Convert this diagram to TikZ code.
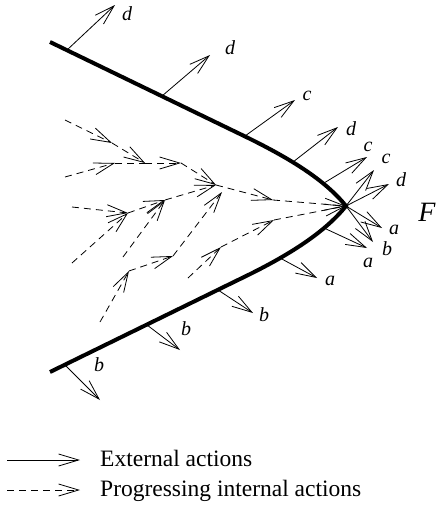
\documentclass[tikz,border=0pt]{standalone}
\usepackage{fontspec}
\setmainfont{Liberation Serif}
\usetikzlibrary{arrows.meta}

\begin{document}
\begin{tikzpicture}[x=1pt,y=-1pt,
		ext/.style={line width=0.8pt,-{Straight Barb[length=20pt,width=12pt]}},
		inner/.style={ext,dash pattern=on 7pt off 5pt},
		plain/.style={line width=0.8pt,dash pattern=on 7pt off 5pt},
		lab/.style={font=\fontsize{20}{24}\selectfont\itshape,inner sep=0pt},
		legend/.style={font=\fontsize{23.5}{28}\selectfont,inner sep=0pt,anchor=base west}]
		\useasboundingbox (0,0) rectangle (438,514);
		
		\coordinate (F) at (346,206);
		\draw[line width=4pt,line join=miter] (50,42) -- (240,134) .. controls (290,158) and (325,180) .. (F)
			.. controls (325,232) and (290,255) .. (240,279) -- (50,372);
		\node[font=\fontsize{28}{32}\selectfont\itshape,inner sep=0pt] (fl) at (427,212) {F};
		
		\coordinate (s1) at (65,120);
		\coordinate (s2) at (65,177);
		\coordinate (s3) at (72,207);
		\coordinate (s4) at (72,263);
		\coordinate (s5) at (123,257);
		\coordinate (s6) at (100,322);
		\coordinate (s7) at (188,278);
		\coordinate (n1) at (112,143);
		\coordinate (n2) at (145,163);
		\coordinate (n3) at (115,163);
		\coordinate (n4) at (181,163);
		\coordinate (n5) at (216,185);
		\coordinate (n6) at (128,213);
		\coordinate (n7) at (165,200);
		\coordinate (n8) at (273,200);
		\coordinate (n9) at (129,271);
		\coordinate (n10) at (173,256);
		\coordinate (n11) at (222,192);
		\coordinate (n12) at (221,247);
		\coordinate (n13) at (274,220);
		
		\draw[inner] (s1) -- (n1);
		\draw[inner] (n1) -- (n2);
		\draw[inner] (s2) -- (n3);
		\draw[plain] (n3) -- (n2);
		\draw[inner] (n2) -- (n4);
		\draw[inner] (n4) -- (n5);
		\draw[inner] (s3) -- (n6);
		\draw[inner] (s4) -- (n6);
		\draw[inner] (n6) -- (n7);
		\draw[inner] (s5) -- (n7);
		\draw[inner] (n7) -- (n5);
		\draw[inner] (n5) -- (n8);
		\draw[inner] (n8) -- (F);
		\draw[inner] (s6) -- (n9);
		\draw[inner] (n9) -- (n10);
		\draw[inner] (n10) -- (n11);
		\draw[inner] (s7) -- (n12);
		\draw[inner] (n12) -- (n13);
		\draw[inner] (n13) -- (F);
		
		\coordinate (b1) at (67,50);
		\coordinate (t1) at (115,5);
		\coordinate (b2) at (162,96);
		\coordinate (t2) at (210,55);
		\coordinate (b3) at (245,136);
		\coordinate (t3) at (295,100);
		\coordinate (b4) at (293,162);
		\coordinate (t4) at (338,127);
		\coordinate (b5) at (324,183);
		\coordinate (t5) at (367,157);
		\coordinate (t6) at (374,170);
		\coordinate (t7) at (389,184);
		\coordinate (t8) at (382,228);
		\coordinate (t9) at (373,242);
		\coordinate (b10) at (324,228);
		\coordinate (t10) at (367,248);
		\coordinate (b11) at (280,258);
		\coordinate (t11) at (317,278);
		\coordinate (b12) at (218,290);
		\coordinate (t12) at (253,313);
		\coordinate (b13) at (147,325);
		\coordinate (t13) at (180,350);
		\coordinate (b14) at (65,365);
		\coordinate (t14) at (100,400);
		
		\draw[ext] (b1) -- (t1);
		\draw[ext] (b2) -- (t2);
		\draw[ext] (b3) -- (t3);
		\draw[ext] (b4) -- (t4);
		\draw[ext] (b5) -- (t5);
		\draw[ext] (F) -- (t6);
		\draw[ext] (F) -- (t7);
		\draw[ext] (F) -- (t8);
		\draw[ext] (F) -- (t9);
		\draw[ext] (b10) -- (t10);
		\draw[ext] (b11) -- (t11);
		\draw[ext] (b12) -- (t12);
		\draw[ext] (b13) -- (t13);
		\draw[ext] (b14) -- (t14);
		
		\node[lab] (l1) at (127,14) {d};
		\node[lab] (l2) at (230,48) {d};
		\node[lab] (l3) at (307,96) {c};
		\node[lab] (l4) at (351,129) {d};
		\node[lab] (l5) at (368,147) {c};
		\node[lab] (l6) at (386,159) {c};
		\node[lab] (l7) at (401,180) {d};
		\node[lab] (l8) at (394,230) {a};
		\node[lab] (l9) at (387,249) {b};
		\node[lab] (l10) at (368,263) {a};
		\node[lab] (l11) at (330,281) {a};
		\node[lab] (l12) at (264,315) {b};
		\node[lab] (l13) at (186,329) {b};
		\node[lab] (l14) at (99,365) {b};
		
		\coordinate (k1) at (7,460);
		\coordinate (k2) at (80,460);
		\coordinate (k3) at (7,490);
		\coordinate (k4) at (80,490);
		\draw[ext] (k1) -- (k2);
		\draw[inner] (k3) -- (k4);
		\node[legend] (ea) at (100,466.5) {External actions};
		\node[legend] (pa) at (100,496.5) {Progressing internal actions};
	\end{tikzpicture}
\end{document}
